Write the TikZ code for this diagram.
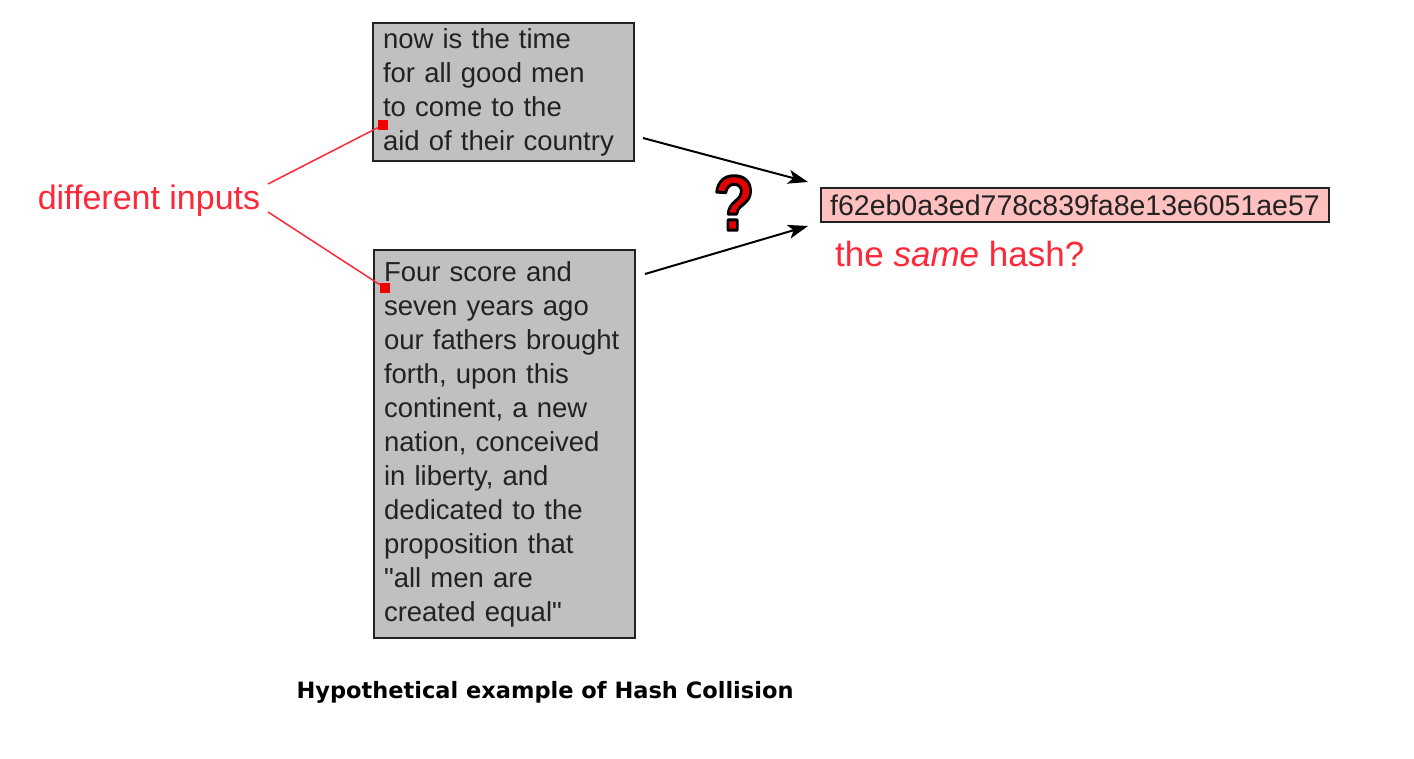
\documentclass[tikz,border=0pt]{standalone}
\usepackage{fontspec}
\usepackage{graphicx}
\setmainfont{Liberation Sans}[Ligatures=TeXOff]
\newfontfamily\titlefont{DejaVu Sans}
\usetikzlibrary{arrows.meta}
\definecolor{boxgray}{RGB}{192,192,192}
\definecolor{hashpink}{RGB}{255,192,192}
\definecolor{labelred}{RGB}{255,40,56}
\definecolor{markred}{RGB}{240,0,0}
\definecolor{qred}{RGB}{225,0,0}
\definecolor{inkgray}{RGB}{34,34,34}

% glyph filled in the current colour and stroked in black
\newcommand{\outlinedglyph}[1]{%
  \special{pdf:code 2 Tr 3 w 1 j 0 0 0 RG}#1\special{pdf:code 0 Tr}}

\begin{document}
\begin{tikzpicture}[x=1pt,y=-1pt,
  textbox/.style={draw=inkgray, line width=2pt, fill=boxgray, anchor=north west,
    inner xsep=10pt, inner ysep=0pt, text width=241pt, align=left,
    minimum width=261pt, font=\fontsize{27.5}{34}\selectfont, text=inkgray},
  hashbox/.style={draw=inkgray, line width=2pt, fill=hashpink, anchor=west,
    inner sep=0pt, minimum width=508pt, minimum height=34pt,
    font=\fontsize{28.5}{30}\selectfont, text=inkgray},
  redlabel/.style={text=labelred, inner sep=0pt, font=\fontsize{34}{36}\selectfont},
  marker/.style={fill=markred, inner sep=0pt, minimum size=10pt},
  pointer/.style={labelred, line width=1.5pt},
  feed/.style={black, line width=2pt, -{Stealth[length=20pt, width=14pt, inset=5pt]}},
  qmark/.style={font=\fontsize{78}{80}\bfseries\selectfont, inner sep=0pt, text=qred}
]
% canvas
\fill[white] (0,0) rectangle (1414,758);
\useasboundingbox (0,0) rectangle (1414,758);

% the two input texts
\node[textbox, minimum height=138pt] (msgA) at (372,22)
  {now is the time\\for all good men\\to come to the\\aid of their country};
\node[textbox, minimum height=388pt] (msgB) at (373,249)
  {Four score and\\seven years ago\\our fathers brought\\forth, upon this\\continent, a new\\nation, conceived\\in liberty, and\\dedicated to the\\proposition that\\"all men are\\created equal"};

% resulting digest
\node[hashbox] (hash) at (820,205) {f62eb0a3ed778c839fa8e13e6051ae57};
\node[redlabel, anchor=west, font=\fontsize{35}{37}\selectfont] (same) at (835,254)
  {the \textit{same} hash?};

% callout on the left
\node[redlabel] (inputs) at (149,201) {different inputs};
\node[marker] (mA) at (383,125) {};
\node[marker] (mB) at (385,288) {};
\coordinate (pA) at (268,184);
\coordinate (pB) at (268,212);
\draw[pointer] (pA) -- (mA);
\draw[pointer] (pB) -- (mB);

% arrows into the digest
\coordinate (sA) at (643,138);
\coordinate (sB) at (645,274);
\coordinate (tA) at (808,182);
\coordinate (tB) at (808,226);
\draw[feed] (sA) -- (tA);
\draw[feed] (sB) -- (tB);

% outlined question mark
\node[qmark] (q) at (734,203) {\scalebox{0.86}[1]{\outlinedglyph{?}}};

% caption
\node[font=\titlefont\bfseries\fontsize{22.5}{24}\selectfont, inner sep=0pt] (caption)
  at (545,692) {Hypothetical example of Hash Collision};
\end{tikzpicture}
\end{document}
